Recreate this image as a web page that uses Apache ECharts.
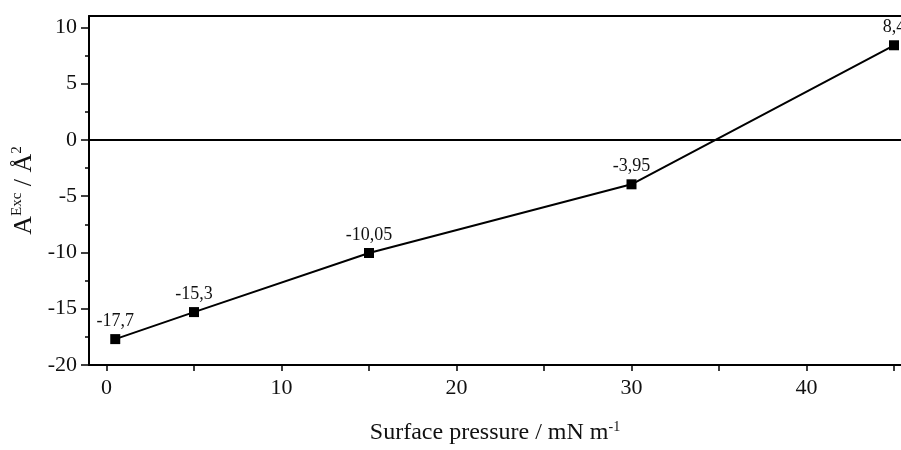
<!DOCTYPE html>
<html>
<head>
<meta charset="utf-8">
<script src="https://cdn.jsdelivr.net/npm/echarts@6/dist/echarts.min.js"></script>
<style>
  html, body { margin: 0; padding: 0; background: #fff; }
  #chart { width: 901px; height: 450px; }
</style>
</head>
<body>
<div id="chart"></div>
<script>
// surface pressure (mN/m) and excess area (Å²)
const pressure = [0.5, 5, 15, 30, 45];
const excessArea = [-17.7, -15.3, -10.05, -3.95, 8.4];

// tick positions
const xTicks = [0, 5, 10, 15, 20, 25, 30, 35, 40, 45];
const xLabels = [0, 10, 20, 30, 40];
const yTicks = [-20, -15, -10, -5, 0, 5, 10];
const yMinorTicks = [-17.5, -12.5, -7.5, -2.5, 2.5, 7.5];

const points = [];
for (let i = 0; i < pressure.length; i++) {
  points.push([pressure[i], excessArea[i]]);
}

const serif = 'Liberation Serif';
const chart = echarts.init(document.getElementById('chart'));

const option = {
  animation: false,
  grid: { left: 89, top: 16, right: 0, bottom: 85 },
  xAxis: [
    {
      type: 'value',
      min: -1,
      max: 45.4,
      name: 'Surface pressure / mN m{sup|-1}',
      nameLocation: 'middle',
      nameGap: 55,
      nameTextStyle: {
        fontFamily: serif, fontSize: 24, color: '#111',
        rich: { sup: { fontFamily: serif, fontSize: 14, color: '#111', verticalAlign: 'top', padding: [0, 0, 12, 0] } }
      },
      axisLine: { show: true, onZero: false, lineStyle: { color: '#000', width: 2 } },
      axisTick: { show: true, length: 6, customValues: xTicks, lineStyle: { color: '#000', width: 1.5 } },
      axisLabel: {
        customValues: xLabels,
        margin: 12,
        fontFamily: serif, fontSize: 22, color: '#111'
      },
      splitLine: { show: false }
    },
    {
      type: 'value',
      position: 'top',
      min: -1,
      max: 45.4,
      axisLine: { show: true, onZero: false, lineStyle: { color: '#000', width: 2 } },
      axisTick: { show: false },
      axisLabel: { show: false },
      splitLine: { show: false }
    }
  ],
  yAxis: [
    {
      type: 'value',
      min: -20,
      max: 11,
      name: '{a|A}{sup|Exc}{a| / Å}{sup|2}',
      nameLocation: 'middle',
      nameGap: 46,
      nameTextStyle: {
        rich: {
          a: { fontFamily: serif, fontSize: 26, color: '#111' },
          sup: { fontFamily: serif, fontSize: 15, color: '#111', verticalAlign: 'top', padding: [0, 0, 13, 0] }
        }
      },
      axisLine: { show: true, onZero: false, lineStyle: { color: '#000', width: 2 } },
      axisTick: { show: true, length: 8, customValues: yTicks, lineStyle: { color: '#000', width: 1.5 } },
      axisLabel: {
        customValues: yTicks,
        margin: 12,
        fontFamily: serif, fontSize: 22, color: '#111'
      },
      splitLine: { show: false }
    },
    {
      // minor ticks only
      type: 'value',
      position: 'left',
      offset: 0,
      min: -20,
      max: 11,
      axisLine: { show: false, onZero: false },
      axisTick: { show: true, length: 4, customValues: yMinorTicks, lineStyle: { color: '#000', width: 1.5 } },
      axisLabel: { show: false },
      splitLine: { show: false }
    }
  ],
  series: [
    {
      type: 'line',
      data: points,
      symbol: 'rect',
      symbolSize: 10,
      lineStyle: { color: '#000', width: 2 },
      itemStyle: { color: '#000' },
      label: {
        show: true,
        position: 'top',
        distance: 4,
        fontFamily: serif, fontSize: 18, color: '#111',
        formatter: function (p) { return String(p.value[1]).replace('.', ','); }
      },
      markLine: {
        silent: true,
        symbol: 'none',
        label: { show: false },
        lineStyle: { color: '#000', width: 2, type: 'solid' },
        data: [{ yAxis: 0 }]
      }
    }
  ]
};

chart.setOption(option);
window.addEventListener('resize', () => { chart.resize(); });
</script>
</body>
</html>
